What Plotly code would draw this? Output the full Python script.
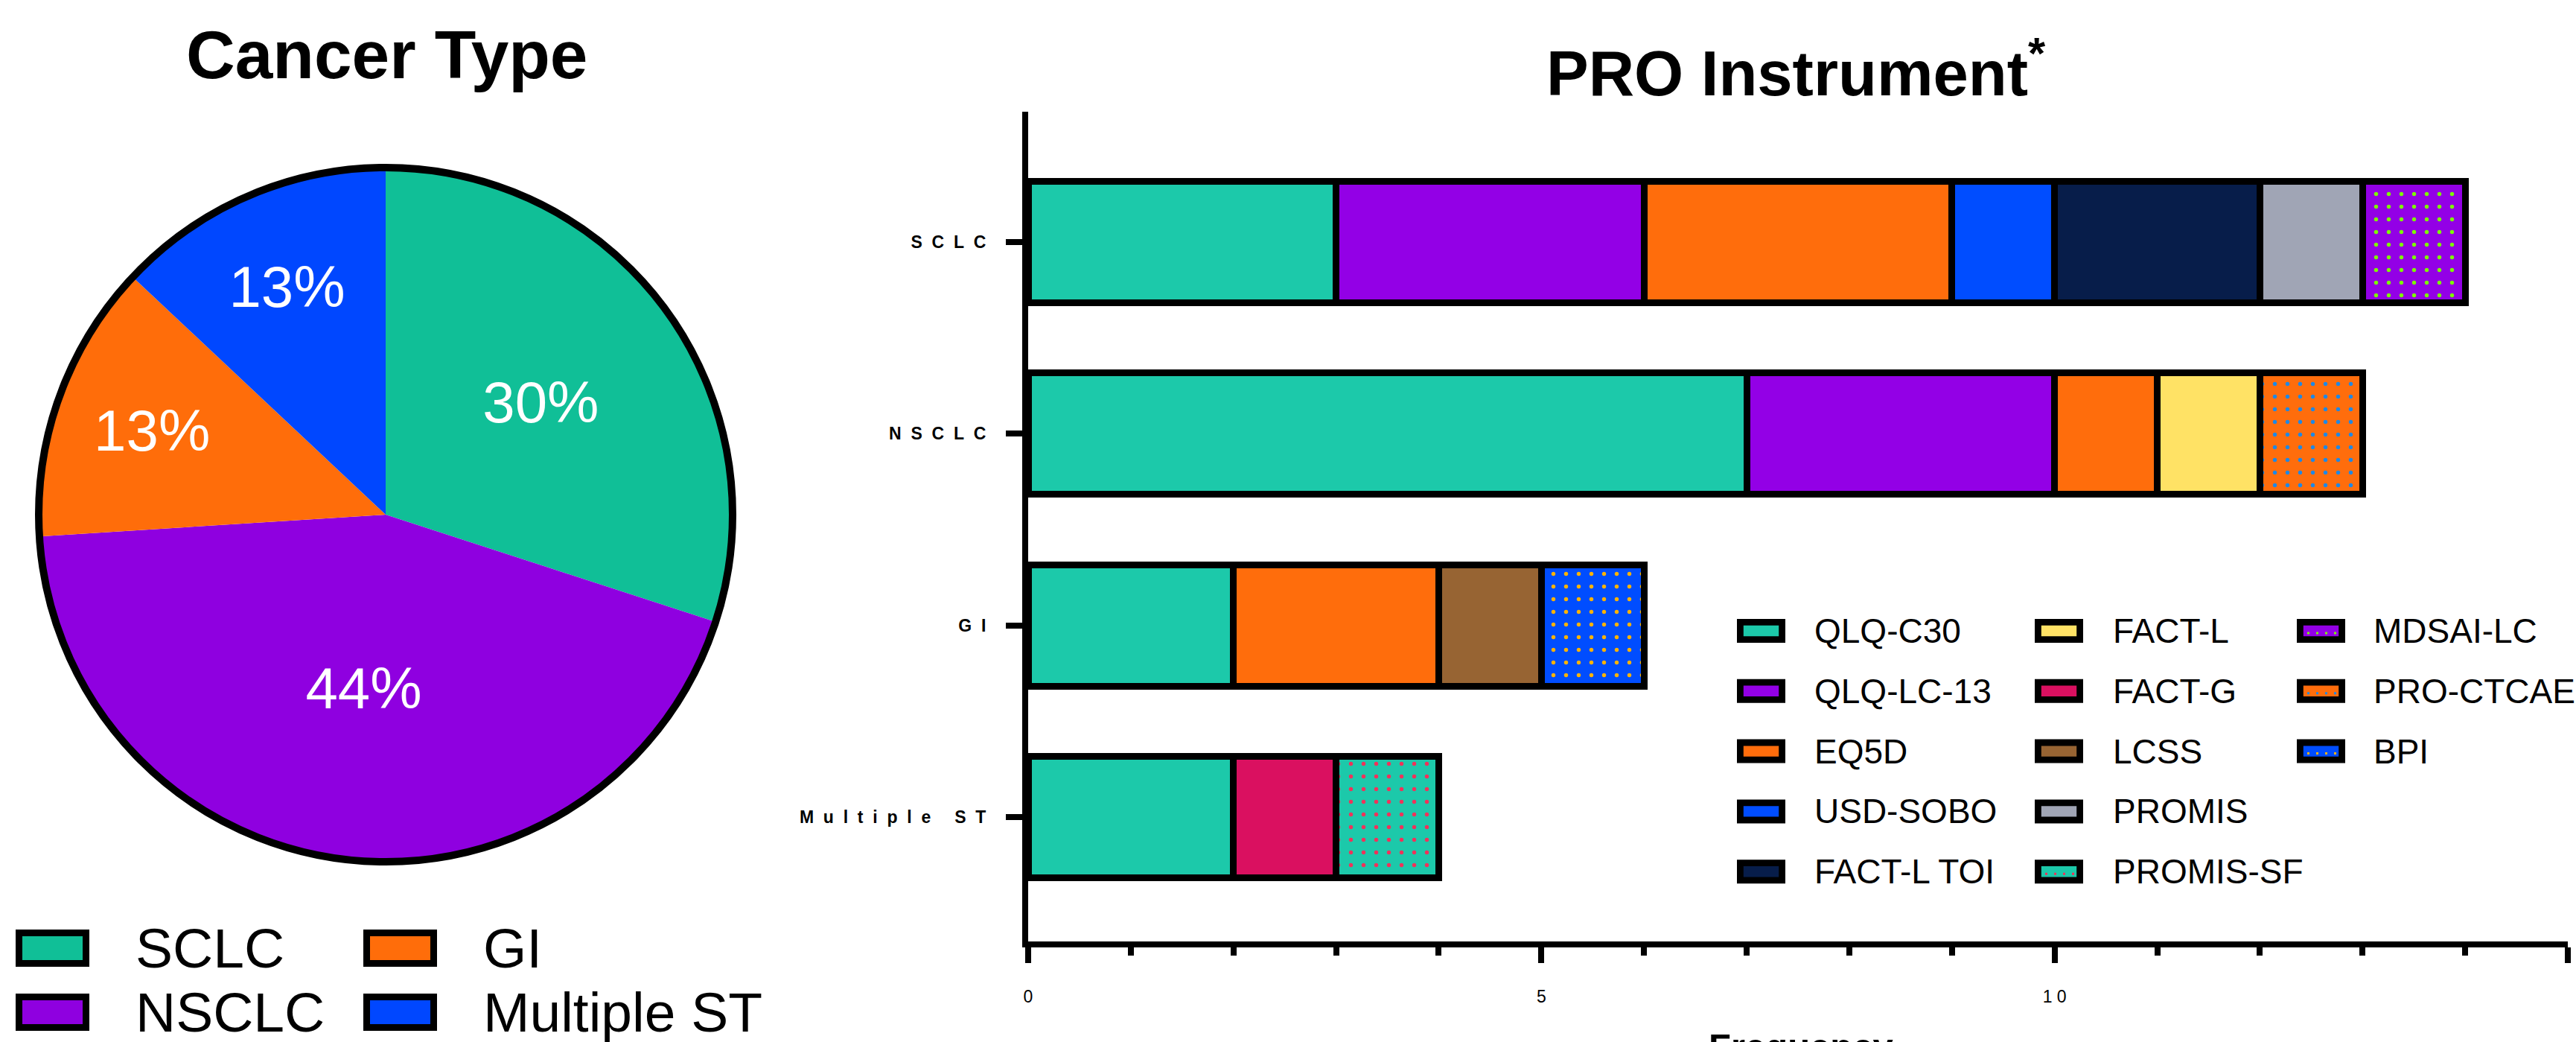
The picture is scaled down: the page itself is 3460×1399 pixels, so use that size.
import plotly.graph_objects as go

W, H = 3460, 1399
FONT = "Liberation Sans, Arial, Helvetica, sans-serif"

# ---------------- data ----------------
# Pie: cancer type (percent)
cancer_types = ["SCLC", "NSCLC", "GI", "Multiple ST"]
cancer_pct = [30, 44, 13, 13]
cancer_colors = ["#10BF97", "#8F00E0", "#FF6D0A", "#0047FF"]

# Bars: frequency per PRO instrument, for [SCLC, NSCLC, GI, Multiple ST]
bar_categories = ["SCLC", "NSCLC", "GI", "Multiple ST"]
qlq_c30 = [3, 7, 2, 2]
qlq_lc13 = [3, 3, 0, 0]
eq5d = [3, 1, 2, 0]
usd_sobo = [1, 0, 0, 0]
fact_l_toi = [2, 0, 0, 0]
fact_l = [0, 1, 0, 0]
fact_g = [0, 0, 0, 1]
lcss = [0, 0, 1, 0]
promis = [1, 0, 0, 0]
promis_sf = [0, 0, 0, 1]
mdsai_lc = [1, 0, 0, 0]
pro_ctcae = [0, 1, 0, 0]
bpi = [0, 0, 1, 0]

instrument_names = ["QLQ-C30", "QLQ-LC-13", "EQ5D", "USD-SOBO", "FACT-L TOI",
                    "FACT-L", "FACT-G", "LCSS", "PROMIS", "PROMIS-SF",
                    "MDSAI-LC", "PRO-CTCAE", "BPI"]
instrument_values = [qlq_c30, qlq_lc13, eq5d, usd_sobo, fact_l_toi,
                     fact_l, fact_g, lcss, promis, promis_sf,
                     mdsai_lc, pro_ctcae, bpi]
instrument_colors = ["#1CC9AA", "#9300E6", "#FF6D0C", "#004DFF", "#071D4A",
                     "#FFE265", "#DA1060", "#976433", "#A0A5B5", "#1CC9AA",
                     "#9300E6", "#FF6D0C", "#004DFF"]
# dot-pattern colours (None = solid)
instrument_dots = [None, None, None, None, None,
                   None, None, None, None, "#F0325A",
                   "#7CFC00", "#1E88E5", "#FFB300"]

x_tick_vals = [0, 5, 10, 15]
x_tick_text = ["0", "5", "1\u00a00", "1\u00a05"]


def spaced(s):
    out = []
    for ch in s:
        out.append("\u00a0" if ch == " " else ch)
    return "\u00a0\u00a0".join(out)


def fx(px):
    return px / W


def fy(py):
    return 1 - py / H


fig = go.Figure()

# ---------------- pie ----------------
pie_cx, pie_cy, pie_r = 518, 691, 466
pie_dom = dict(x=[fx(pie_cx - pie_r), fx(pie_cx + pie_r)],
               y=[fy(pie_cy + pie_r), fy(pie_cy - pie_r)])
fig.add_trace(go.Pie(
    labels=cancer_types, values=cancer_pct, sort=False,
    direction="clockwise", rotation=0,
    marker=dict(colors=cancer_colors, line=dict(width=0)),
    texttemplate="%{value}%", textposition="inside",
    insidetextorientation="horizontal",
    textfont=dict(family=FONT, size=78, color="white"),
    domain=pie_dom, showlegend=False, hoverinfo="label+percent",
))
# outer outline of the pie
fig.add_trace(go.Pie(
    labels=["all"], values=[1], sort=False,
    marker=dict(colors=["rgba(0,0,0,0)"], line=dict(color="black", width=10)),
    textinfo="none", domain=pie_dom, showlegend=False, hoverinfo="skip",
))

# ---------------- stacked bars ----------------
for name, vals, col, dot in zip(instrument_names, instrument_values,
                                instrument_colors, instrument_dots):
    xs = [v if v else None for v in vals]
    marker = dict(color=col, line=dict(color="black", width=9))
    if dot:
        marker["pattern"] = dict(shape=".", fgcolor=dot, bgcolor=col,
                                 fillmode="replace", size=17, solidity=0.08)
    fig.add_trace(go.Bar(
        x=xs, y=bar_categories, orientation="h", name=name,
        width=0.634, marker=marker, showlegend=False,
        xaxis="x", yaxis="y",
    ))

shapes = []
annotations = []

# pie legend (2 columns x 2 rows)
pie_leg_sw_x = [21, 488]
pie_leg_tx_x = [180, 647]
pie_leg_row_y = [1273, 1359]
for i, (lab, col) in enumerate(zip(cancer_types, cancer_colors)):
    c, r = i // 2, i % 2
    x0 = pie_leg_sw_x[c]
    yc = pie_leg_row_y[r]
    shapes.append(dict(type="rect", xref="paper", yref="paper",
                       x0=fx(x0 + 4.5), x1=fx(x0 + 99 - 4.5),
                       y0=fy(yc + 25 - 4.5), y1=fy(yc - 25 + 4.5),
                       fillcolor=col, line=dict(color="black", width=9)))
    annotations.append(dict(text=lab, xref="paper", yref="paper",
                            x=fx(pie_leg_tx_x[c]), y=fy(yc), xanchor="left",
                            yanchor="middle", showarrow=False,
                            font=dict(family=FONT, size=75, color="black")))

# bar legend (3 columns x 5 rows)
bar_leg_sw_x = [2333, 2733, 3085]
bar_leg_tx_x = [2435, 2836, 3186]
bar_leg_row0 = 847
bar_leg_dy = 80.8
for i, (lab, col, dot) in enumerate(zip(instrument_names, instrument_colors, instrument_dots)):
    c, r = i // 5, i % 5
    x0 = bar_leg_sw_x[c]
    yc = bar_leg_row0 + r * bar_leg_dy
    shapes.append(dict(type="rect", xref="paper", yref="paper",
                       x0=fx(x0 + 4.4), x1=fx(x0 + 65 - 4.4),
                       y0=fy(yc + 16 - 4.4), y1=fy(yc - 16 + 4.4),
                       fillcolor=col, line=dict(color="black", width=8.8)))
    if dot:
        shapes.append(dict(type="line", xref="paper", yref="paper",
                           x0=fx(x0 + 14), x1=fx(x0 + 54),
                           y0=fy(yc + 3), y1=fy(yc + 3),
                           line=dict(color=dot, width=3, dash="3px,9px")))
    annotations.append(dict(text=lab, xref="paper", yref="paper",
                            x=fx(bar_leg_tx_x[c]), y=fy(yc), xanchor="left",
                            yanchor="middle", showarrow=False,
                            font=dict(family=FONT, size=46, color="black")))

# titles
annotations.append(dict(text="<b>Cancer Type</b>", xref="paper", yref="paper",
                        x=fx(519), y=fy(74), xanchor="center", yanchor="middle",
                        showarrow=False, font=dict(family=FONT, size=91, color="black")))
annotations.append(dict(text="<b>PRO Instrument<sup>*</sup></b>", xref="paper", yref="paper",
                        x=fx(2412), y=fy(92), xanchor="center", yanchor="middle",
                        showarrow=False, font=dict(family=FONT, size=85, color="black")))
annotations.append(dict(text="<b>Frequency</b>", xref="paper", yref="paper",
                        x=fx(2419), y=fy(1376), xanchor="center", yanchor="top",
                        showarrow=False, font=dict(family=FONT, size=49, color="black")))

fig.update_layout(
    width=W, height=H, autosize=False,
    margin=dict(l=0, r=0, t=0, b=0, pad=0),
    paper_bgcolor="white", plot_bgcolor="white",
    font=dict(family=FONT, color="black"),
    barmode="stack",
    showlegend=False,
    shapes=shapes,
    annotations=annotations,
    xaxis=dict(
        domain=[fx(1381), fx(3449)], range=[0, 15], anchor="y",
        showline=True, linewidth=8, linecolor="black", mirror=False,
        showgrid=False, zeroline=False,
        ticks="outside", ticklen=21, tickwidth=8, tickcolor="black",
        tickvals=x_tick_vals, ticktext=x_tick_text,
        tickfont=dict(family=FONT, size=23, color="black"),
        ticklabelstandoff=25,
        minor=dict(ticks="outside", dtick=1, tick0=0, ticklen=11,
                   tickwidth=8, tickcolor="black", showgrid=False),
        automargin=False, fixedrange=True,
    ),
    yaxis=dict(
        domain=[fy(1264), fy(150)], anchor="x",
        type="category", categoryorder="array", categoryarray=bar_categories,
        range=[3.649, -0.680],
        showline=True, linewidth=8, linecolor="black",
        showgrid=False, zeroline=False,
        ticks="outside", ticklen=22, tickwidth=8, tickcolor="black",
        tickvals=bar_categories, ticktext=[spaced(c) for c in bar_categories],
        tickfont=dict(family=FONT, size=23, color="black", weight="bold"),
        ticklabelstandoff=22,
        automargin=False, fixedrange=True,
    ),
)

fig.write_html(
    "out.html",
    config={"displayModeBar": False},
    post_script="document.body.style.margin='0';document.body.style.overflow='hidden';",
)
